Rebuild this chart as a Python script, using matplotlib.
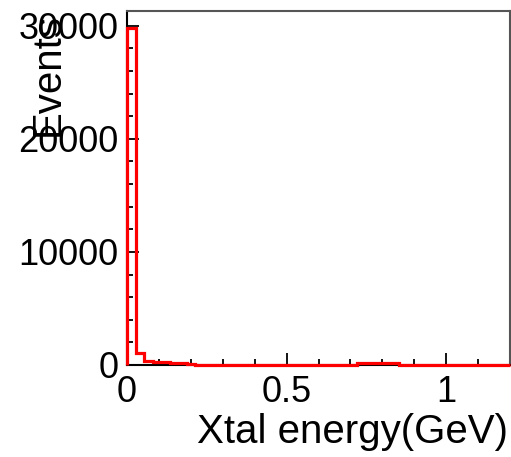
import numpy as np
import matplotlib
matplotlib.use("Agg")
import matplotlib.pyplot as plt
from matplotlib.ticker import MultipleLocator

plt.rcParams['font.family'] = ['Liberation Sans', 'DejaVu Sans']

# Histogram: Xtal energy (GeV), 45 bins from 0 to 1.2
x_lo, x_hi, n_bins = 0.0, 1.2, 45
counts = [29800, 1050, 350, 260, 230, 200, 140, 60, 40, 30,
          25, 25, 25, 25, 25, 25, 25, 25, 25, 25,
          25, 25, 25, 25, 25, 25, 25, 170, 175, 170,
          170, 165, 30, 25, 25, 25, 25, 25, 25, 25,
          25, 25, 25, 25, 25]
xlabel = "Xtal energy(GeV)"
ylabel = "Events"

edges = np.linspace(x_lo, x_hi, n_bins + 1)

fig = plt.figure(figsize=(5.11, 4.57), dpi=100)
ax = fig.add_axes([127/511, 1-365/457, (510-127)/511, (365-11)/457])

ax.stairs(counts, edges, color='#ff0000', linewidth=2.3, clip_on=False, zorder=3)

ax.set_xlim(0, 1.2)
ax.set_ylim(0, 31300)

ax.xaxis.set_major_locator(MultipleLocator(0.5))
ax.xaxis.set_minor_locator(MultipleLocator(0.1))
ax.yaxis.set_major_locator(MultipleLocator(10000))
ax.yaxis.set_minor_locator(MultipleLocator(2000))

ax.tick_params(axis='both', which='both', direction='in', top=False, right=False,
               width=1.3, color='black', labelsize=26)
ax.tick_params(axis='both', which='major', length=8.5)
ax.tick_params(axis='both', which='minor', length=4.3)
ax.tick_params(axis='x', which='major', pad=7)
ax.tick_params(axis='y', which='major', pad=6)

ax.xaxis.set_major_formatter(matplotlib.ticker.FuncFormatter(
    lambda v, p: '0' if v == 0 else ('%g' % v)))
ax.yaxis.set_major_formatter(matplotlib.ticker.FuncFormatter(
    lambda v, p: '%d' % v))

for s in ['left', 'bottom']:
    ax.spines[s].set_color('black')
    ax.spines[s].set_linewidth(1.5)
for s in ['top', 'right']:
    ax.spines[s].set_color('#555555')
    ax.spines[s].set_linewidth(1.5)

fig.text(508/511, 1-432/457, xlabel, fontsize=29, ha='right', va='center')
fig.text(48/511, 1-13/457, ylabel, fontsize=29, ha='center', va='top', rotation=90)

fig.savefig('out.png', dpi=100)
